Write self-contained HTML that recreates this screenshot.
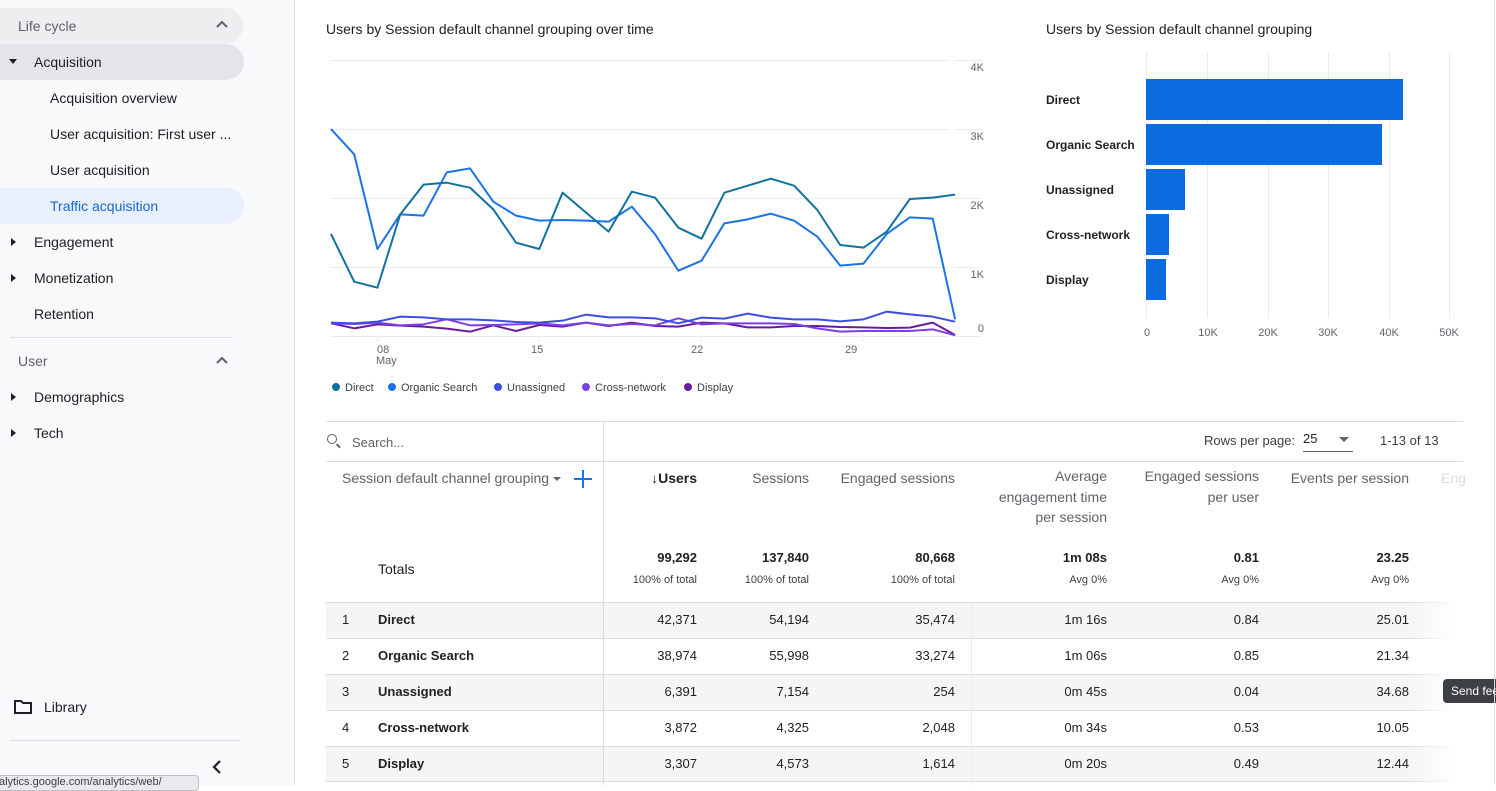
<!DOCTYPE html>
<html><head><meta charset="utf-8"><style>
*{margin:0;padding:0;box-sizing:border-box}
body{width:1496px;height:785px;overflow:hidden;background:#fff;font-family:"Liberation Sans",Arial,sans-serif;color:#202124;position:relative}
.a{position:absolute;white-space:nowrap}
.side{position:absolute;left:0;top:0;width:295px;height:785px;background:#f8f9fa;border-right:1px solid #dadce0}
.nav{font-size:14px;color:#202124}
.tri{position:absolute;width:0;height:0}
.r{text-align:right}
.hd{font-size:14px;color:#5f6368;line-height:20.5px}
.tot{font-size:13px;font-weight:bold}
.sub{font-size:11px;color:#3c4043}
.cell{font-size:13px;color:#202124}
</style></head><body>
<div class="side">
  <div class="a" style="left:0;top:8px;width:243px;height:36px;background:#eceef0;border-radius:0 18px 18px 0"></div>
  <div class="a nav" style="left:18px;top:18px;color:#5f6368">Life cycle</div>
  <svg class="a" style="left:216px;top:20px" width="12" height="8"><polyline points="1,7 6,2 11,7" fill="none" stroke="#5f6368" stroke-width="2"/></svg>
  <div class="a" style="left:0;top:44px;width:244px;height:36px;background:#e3e5e8;border-radius:0 18px 18px 0"></div>
  <div class="tri" style="left:9px;top:59px;border-left:4px solid transparent;border-right:4px solid transparent;border-top:5px solid #202124"></div>
  <div class="a nav" style="left:34px;top:54px">Acquisition</div>
  <div class="a nav" style="left:50px;top:90px">Acquisition overview</div>
  <div class="a nav" style="left:50px;top:126px">User acquisition: First user ...</div>
  <div class="a nav" style="left:50px;top:162px">User acquisition</div>
  <div class="a" style="left:0;top:188px;width:244px;height:36px;background:#e8f0fe;border-radius:0 18px 18px 0"></div>
  <div class="a nav" style="left:50px;top:198px;color:#1967d2">Traffic acquisition</div>
  <div class="tri" style="left:11px;top:238px;border-top:4px solid transparent;border-bottom:4px solid transparent;border-left:5px solid #202124"></div>
  <div class="a nav" style="left:34px;top:234px">Engagement</div>
  <div class="tri" style="left:11px;top:274px;border-top:4px solid transparent;border-bottom:4px solid transparent;border-left:5px solid #202124"></div>
  <div class="a nav" style="left:34px;top:270px">Monetization</div>
  <div class="a nav" style="left:34px;top:306px">Retention</div>
  <div class="a" style="left:10px;top:337px;width:222px;height:1px;background:#dadce0"></div>
  <div class="a nav" style="left:18px;top:353px;color:#5f6368">User</div>
  <svg class="a" style="left:216px;top:356px" width="12" height="8"><polyline points="1,7 6,2 11,7" fill="none" stroke="#5f6368" stroke-width="2"/></svg>
  <div class="tri" style="left:11px;top:393px;border-top:4px solid transparent;border-bottom:4px solid transparent;border-left:5px solid #202124"></div>
  <div class="a nav" style="left:34px;top:389px">Demographics</div>
  <div class="tri" style="left:11px;top:429px;border-top:4px solid transparent;border-bottom:4px solid transparent;border-left:5px solid #202124"></div>
  <div class="a nav" style="left:34px;top:425px">Tech</div>
  <svg class="a" style="left:14px;top:699px" width="18" height="15"><path d="M1,2 H7 L9,4 H17 V14 H1 Z" fill="none" stroke="#202124" stroke-width="2"/></svg>
  <div class="a nav" style="left:44px;top:699px">Library</div>
  <div class="a" style="left:10px;top:740px;width:231px;height:1px;background:#dadce0"></div>
  <svg class="a" style="left:212px;top:760px" width="10" height="14"><polyline points="8,1 2,7 8,13" fill="none" stroke="#202124" stroke-width="2.2"/></svg>
  <div class="a" style="left:-4px;top:775px;width:203px;height:16px;background:#e8eaed;border:1px solid #bdc1c6;border-radius:4px;font-size:11px;color:#3c4043;padding-left:2px">alytics.google.com/analytics/web/</div>
</div>

<div class="a" style="left:326px;top:21px;font-size:14px;color:#202124">Users by Session default channel grouping over time</div>
<div class="a" style="left:1046px;top:21px;font-size:14px;color:#202124">Users by Session default channel grouping</div>

<svg class="a" style="left:0;top:0" width="1496" height="420">
  <g stroke="#e8eaed" stroke-width="1">
    <line x1="330" y1="60.5" x2="948" y2="60.5"/><line x1="330" y1="129.5" x2="948" y2="129.5"/>
    <line x1="330" y1="198.5" x2="948" y2="198.5"/><line x1="330" y1="267.5" x2="948" y2="267.5"/>
    <line x1="330" y1="336.5" x2="948" y2="336.5"/>
    <line x1="954" y1="60.5" x2="982" y2="60.5"/><line x1="954" y1="129.5" x2="982" y2="129.5"/>
    <line x1="954" y1="198.5" x2="982" y2="198.5"/><line x1="954" y1="267.5" x2="982" y2="267.5"/>
    <line x1="954" y1="336.5" x2="982" y2="336.5"/>
    <line x1="377.5" y1="336" x2="377.5" y2="342"/><line x1="539" y1="336" x2="539" y2="342"/>
    <line x1="701" y1="336" x2="701" y2="342"/><line x1="863" y1="336" x2="863" y2="342"/>
  </g>
  <g font-size="11" fill="#5f6368" font-family="Liberation Sans,sans-serif">
    <text x="984" y="71" text-anchor="end">4K</text><text x="984" y="140" text-anchor="end">3K</text>
    <text x="984" y="209" text-anchor="end">2K</text><text x="984" y="278" text-anchor="end">1K</text>
    <text x="984" y="332" text-anchor="end">0</text>
    <text x="377" y="353">08</text><text x="376" y="364">May</text>
    <text x="531" y="353">15</text><text x="691" y="353">22</text><text x="845" y="353">29</text>
  </g>
  <g transform="translate(320,50) scale(0.4386,0.33333)" fill="none" stroke-width="2" stroke-linejoin="round">
    <polyline vector-effect="non-scaling-stroke" stroke="#6a1b9a" points="25,820 78,835 131,823 183,827 236,830 289,836 342,845 395,826 447,843 500,825 553,830 606,818 658,828 711,818 764,828 817,830 870,818 922,820 975,832 1028,832 1081,828 1134,828 1186,831 1239,832 1292,834 1345,833 1397,818 1448,855"/>
    <polyline vector-effect="non-scaling-stroke" stroke="#7b3fe4" points="25,820 78,822 131,818 183,826 236,823 289,808 342,826 395,825 447,823 500,820 553,826 606,818 658,826 711,822 764,826 817,805 870,823 922,820 975,820 1028,820 1081,822 1134,835 1186,845 1239,843 1292,843 1345,843 1397,838 1448,856"/>
    <polyline vector-effect="non-scaling-stroke" stroke="#3c4ee0" points="25,818 78,820 131,815 183,800 236,802 289,808 342,808 395,811 447,816 500,818 553,812 606,794 658,802 711,802 764,805 817,820 870,803 922,806 975,791 1028,803 1081,808 1134,808 1186,814 1239,808 1292,785 1345,793 1397,800 1448,815"/>
    <polyline vector-effect="non-scaling-stroke" stroke="#1a73e8" points="25,237 78,313 131,597 183,493 236,497 289,367 342,355 395,455 447,497 500,512 553,510 606,512 658,515 711,470 764,553 817,662 870,632 922,520 975,508 1028,491 1081,512 1134,560 1186,647 1239,641 1292,552 1345,502 1397,506 1448,808"/>
    <polyline vector-effect="non-scaling-stroke" stroke="#12729e" points="25,552 78,695 131,713 183,493 236,404 289,398 342,413 395,478 447,578 500,597 553,428 606,487 658,545 711,425 764,443 817,533 870,566 922,428 975,407 1028,386 1081,407 1134,480 1186,585 1239,593 1292,545 1345,447 1397,443 1448,434"/>
  </g>
  <g font-size="11" fill="#3c4043" font-family="Liberation Sans,sans-serif">
    <circle cx="336" cy="387" r="4" fill="#12729e"/><text x="345" y="391">Direct</text>
    <circle cx="392" cy="387" r="4" fill="#1a73e8"/><text x="401" y="391">Organic Search</text>
    <circle cx="498" cy="387" r="4" fill="#3c4ee0"/><text x="507" y="391">Unassigned</text>
    <circle cx="586" cy="387" r="4" fill="#7b3fe4"/><text x="595" y="391">Cross-network</text>
    <circle cx="688" cy="387" r="4" fill="#6a1b9a"/><text x="697" y="391">Display</text>
  </g>
  <g stroke="#e8eaed">
    <line x1="1146.5" y1="52" x2="1146.5" y2="318"/><line x1="1207.5" y1="52" x2="1207.5" y2="318"/>
    <line x1="1268.5" y1="52" x2="1268.5" y2="318"/><line x1="1328.5" y1="52" x2="1328.5" y2="318"/>
    <line x1="1389.5" y1="52" x2="1389.5" y2="318"/><line x1="1449.5" y1="52" x2="1449.5" y2="318"/>
  </g>
  <g fill="#0b6be0">
    <rect x="1146" y="79" width="257" height="41"/><rect x="1146" y="124" width="236" height="41"/>
    <rect x="1146" y="169" width="39" height="41"/><rect x="1146" y="214" width="23" height="41"/>
    <rect x="1146" y="259" width="20" height="41"/>
  </g>
  <g font-size="12" fill="#202124" font-weight="600" font-family="Liberation Sans,sans-serif">
    <text x="1046" y="104">Direct</text><text x="1046" y="149">Organic Search</text>
    <text x="1046" y="194">Unassigned</text><text x="1046" y="239">Cross-network</text><text x="1046" y="284">Display</text>
  </g>
  <g font-size="11" fill="#5f6368" text-anchor="middle" font-family="Liberation Sans,sans-serif">
    <text x="1147" y="336">0</text><text x="1208" y="336">10K</text><text x="1268" y="336">20K</text>
    <text x="1328" y="336">30K</text><text x="1389" y="336">40K</text><text x="1449" y="336">50K</text>
  </g>
</svg>

<div class="a" style="left:326px;top:421px;width:1137px;height:1px;background:#dadce0"></div>
<div class="a" style="left:326px;top:461px;width:1137px;height:1px;background:#dadce0"></div>
<div class="a" style="left:603px;top:421px;width:1px;height:364px;background:#dadce0"></div>
<div class="a" style="left:327px;top:434px;width:10px;height:10px;border:1.5px solid #5f6368;border-radius:50%"></div>
<div class="a" style="left:336px;top:445px;width:5px;height:1.5px;background:#5f6368;transform:rotate(45deg)"></div>
<div class="a" style="left:352px;top:435px;font-size:13px;color:#5f6368">Search...</div>
<div class="a" style="left:1204px;top:433px;font-size:13px;color:#3c4043">Rows per page:</div>
<div class="a" style="left:1303px;top:431px;font-size:13px;color:#202124">25</div>
<div class="tri" style="left:1339px;top:437px;border-left:5px solid transparent;border-right:5px solid transparent;border-top:5px solid #5f6368"></div>
<div class="a" style="left:1303px;top:451px;width:50px;height:1px;background:#5f6368"></div>
<div class="a" style="left:1380px;top:433px;font-size:13px;color:#3c4043">1-13 of 13</div>

<div class="a hd" style="left:342px;top:468px">Session default channel grouping</div>
<div class="tri" style="left:553px;top:477px;border-left:4px solid transparent;border-right:4px solid transparent;border-top:4px solid #5f6368"></div>
<div class="a" style="left:574px;top:478px;width:18px;height:2px;background:#1a73e8"></div>
<div class="a" style="left:582px;top:470px;width:2px;height:18px;background:#1a73e8"></div>
<div class="a hd r" style="right:799px;top:468px;color:#202124;font-weight:bold">&#8595;Users</div>
<div class="a hd r" style="right:687px;top:468px">Sessions</div>
<div class="a hd r" style="right:541px;top:468px">Engaged sessions</div>
<div class="a hd r" style="right:389px;top:466px">Average<br>engagement time<br>per session</div>
<div class="a hd r" style="right:237px;top:466px">Engaged sessions<br>per user</div>
<div class="a hd r" style="right:87px;top:468px">Events per session</div>
<div class="a hd" style="left:1441px;top:468px;color:#dadce0">Eng</div>

<div class="a" style="left:378px;top:561px;font-size:14px">Totals</div>
<div class="a tot r" style="right:799px;top:550px">99,292</div><div class="a sub r" style="right:799px;top:574px">100% of total</div>
<div class="a tot r" style="right:687px;top:550px">137,840</div><div class="a sub r" style="right:687px;top:574px">100% of total</div>
<div class="a tot r" style="right:541px;top:550px">80,668</div><div class="a sub r" style="right:541px;top:574px">100% of total</div>
<div class="a tot r" style="right:389px;top:550px">1m 08s</div><div class="a sub r" style="right:389px;top:574px">Avg 0%</div>
<div class="a tot r" style="right:237px;top:550px">0.81</div><div class="a sub r" style="right:237px;top:574px">Avg 0%</div>
<div class="a tot r" style="right:87px;top:550px">23.25</div><div class="a sub r" style="right:87px;top:574px">Avg 0%</div>

<div class="a" style="left:326px;top:602px;width:1137px;height:36px;background:#f5f5f5;border-top:1px solid #dadce0"></div>
<div class="a" style="left:326px;top:638px;width:1137px;height:36px;border-top:1px solid #dadce0"></div>
<div class="a" style="left:326px;top:674px;width:1137px;height:36px;background:#f5f5f5;border-top:1px solid #dadce0"></div>
<div class="a" style="left:326px;top:710px;width:1137px;height:36px;border-top:1px solid #dadce0"></div>
<div class="a" style="left:326px;top:746px;width:1137px;height:36px;background:#f5f5f5;border-top:1px solid #dadce0;border-bottom:1px solid #dadce0"></div>
<div class="a" style="left:603px;top:602px;width:1px;height:183px;background:#dadce0"></div>
<div class="a" style="left:971px;top:602px;width:1px;height:183px;background:#e8eaed"></div>
<div class="a" style="left:1410px;top:600px;width:56px;height:185px;background:linear-gradient(to right,rgba(255,255,255,0),#fff 80%)"></div>

<div class="a cell" style="left:342px;top:612px">1</div><div class="a cell" style="left:378px;top:612px;font-weight:bold">Direct</div>
<div class="a cell" style="left:342px;top:648px">2</div><div class="a cell" style="left:378px;top:648px;font-weight:bold">Organic Search</div>
<div class="a cell" style="left:342px;top:684px">3</div><div class="a cell" style="left:378px;top:684px;font-weight:bold">Unassigned</div>
<div class="a cell" style="left:342px;top:720px">4</div><div class="a cell" style="left:378px;top:720px;font-weight:bold">Cross-network</div>
<div class="a cell" style="left:342px;top:756px">5</div><div class="a cell" style="left:378px;top:756px;font-weight:bold">Display</div>

<div class="a cell r" style="right:799px;top:613px;line-height:36px;margin-top:-11px">42,371<br>38,974<br>6,391<br>3,872<br>3,307</div>
<div class="a cell r" style="right:687px;top:613px;line-height:36px;margin-top:-11px">54,194<br>55,998<br>7,154<br>4,325<br>4,573</div>
<div class="a cell r" style="right:541px;top:613px;line-height:36px;margin-top:-11px">35,474<br>33,274<br>254<br>2,048<br>1,614</div>
<div class="a cell r" style="right:389px;top:613px;line-height:36px;margin-top:-11px">1m 16s<br>1m 06s<br>0m 45s<br>0m 34s<br>0m 20s</div>
<div class="a cell r" style="right:237px;top:613px;line-height:36px;margin-top:-11px">0.84<br>0.85<br>0.04<br>0.53<br>0.49</div>
<div class="a cell r" style="right:87px;top:613px;line-height:36px;margin-top:-11px">25.01<br>21.34<br>34.68<br>10.05<br>12.44</div>

<div class="a" style="left:1443px;top:679px;width:60px;height:24px;background:#3c4043;border-radius:4px;color:#fff;font-size:12px;padding:5px 0 0 8px">Send feedback</div>
<div class="a" style="left:1494px;top:0;width:1px;height:785px;background:#dadce0"></div>
</body></html>
